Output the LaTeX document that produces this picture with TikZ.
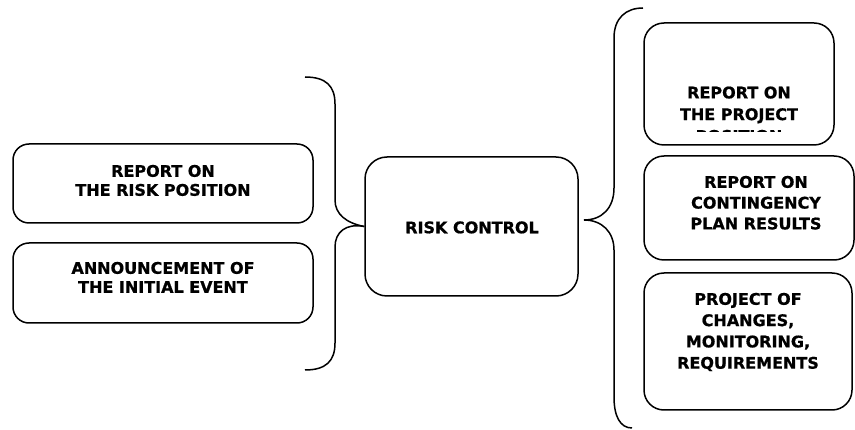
\documentclass[tikz,border=0pt]{standalone}
\usepackage{fontspec}
\setmainfont{DejaVu Sans}[BoldFeatures={FakeBold=0.8}]
\begin{document}
\begin{tikzpicture}[x=1pt,y=-1pt,
  box/.style={draw=black,line width=1.5pt,rounded corners=#1,inner sep=0pt},
  box/.default=16pt,
  txt/.style={inner sep=0pt,anchor=north,align=center,font=\bfseries\fontsize{16}{#1}\selectfont},
  txt/.default=19,
  brace/.style={draw=black,line width=1.5pt}]
\useasboundingbox (0,0) rectangle (855,430);
% left boxes
\node[box, minimum width=300pt, minimum height=79pt] (rrisk) at (163,183.5) {};
\node[txt] (trisk) at (163,164.7) {REPORT ON\\THE RISK POSITION};
\node[box, minimum width=300pt, minimum height=80pt] (ann) at (163,283) {};
\node[txt] (tann) at (163,261.7) {ANNOUNCEMENT OF\\THE INITIAL EVENT};
% center
\node[box=22pt, minimum width=213pt, minimum height=139pt] (ctrl) at (471.5,226.5) {};
\node[txt] (tctrl) at (472,221.2) {RISK CONTROL};
% right boxes
\node[box=20pt, minimum width=190pt, minimum height=122pt] (proj) at (739,84) {};
\begin{scope}
\clip (600,0) rectangle (855,132);
\node[txt=21.7] (tproj) at (739,86.3) {REPORT ON\\THE PROJECT\\POSITION};
\end{scope}
\node[box=20pt, minimum width=210pt, minimum height=104pt] (cont) at (749,208) {};
\node[txt=20.8] (tcont) at (756,175.7) {REPORT ON\\CONTINGENCY\\PLAN RESULTS};
\node[box=20pt, minimum width=208pt, minimum height=137pt] (chg) at (748,341.5) {};
\node[txt=21.3] (tchg) at (748,292.7) {PROJECT OF\\CHANGES,\\MONITORING,\\REQUIREMENTS};
% left brace
\coordinate (lt) at (305,77);
\coordinate (lb) at (305,370);
\draw[brace] (lt) .. controls (326,77) and (335,86) .. (335,104)
  -- (335,200) .. controls (335,214) and (346,223) .. (ctrl.west);
\draw[brace] (ctrl.west) .. controls (346,223) and (335,232) .. (335,247)
  -- (335,343) .. controls (335,361) and (326,370) .. (lb);
% right brace
\coordinate (rt) at (643,8);
\coordinate (rb) at (632,428);
\coordinate (rtip) at (584,220);
\draw[brace] (rtip) .. controls (602,220) and (614,208) .. (614,188)
  -- (614,38) .. controls (614,18) and (626,8) .. (rt);
\draw[brace] (rtip) .. controls (602,220) and (614,232) .. (614,250)
  -- (614,397) .. controls (614,416) and (620,428) .. (rb);
\end{tikzpicture}
\end{document}
